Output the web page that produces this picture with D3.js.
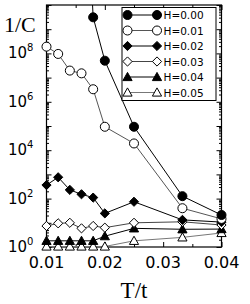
<!DOCTYPE html>
<html>
<head>
<meta charset="utf-8">
<script src="https://cdn.jsdelivr.net/npm/d3@7"></script>
<style>
  body { margin: 0; background: #fff; }
  svg { display: block; }
</style>
</head>
<body>
<svg id="canvas"></svg>
<script>
let svg = d3.select("#canvas");

svg.attr('width', 250)
    .attr('height', 304);

// T/t values
let temps = [0.010, 0.012, 0.014, 0.016, 0.018, 0.020, 0.025, 0.0333, 0.040];

// 1/C for each field, null = not plotted
let h000 = [null, null, null, 1e19, 3.1e9, 5.0e7, 9.3e4, 126, 21];
let h001 = [1.9e8, 9.5e7, 1.95e7, 1.5e7, 3.3e6, 9.3e4, 1.9e4, 40, 14.5];
let h002 = [363, 760, 229, 151, 110, 24.5, 74, 13.2, 10.7];
let h003 = [7.4, 9.5, 10, 5.9, 7.4, 6.3, 10, 11, 8.1];
let h004 = [1.8, 1.8, 1.8, 1.8, 1.8, 2.8, 5.9, 5.4, 5.5];
let h005 = [1.05, 1.05, 1.05, 1.05, 1.05, 1.05, 1.8, 2.5, 3.8];

let labels = ['H=0.00', 'H=0.01', 'H=0.02', 'H=0.03', 'H=0.04', 'H=0.05'];
let series = [h000, h001, h002, h003, h004, h005];
let symbols = ['circle', 'circle', 'diamond', 'diamond', 'triangle', 'triangle'];
let filled = [true, false, true, false, true, false];
let lineColors = ['#000', '#555', '#000', '#444', '#000', '#777'];

let xTicks = [0.01, 0.02, 0.03, 0.04];
let yLabelExp = [0, 2, 4, 6, 8];

let pLeft = 46.5, pRight = 221.5, pTop = 5, pBottom = 247;

let x = d3.scaleLinear().domain([0.01, 0.04]).range([pLeft, pRight]);
let y = d3.scaleLog().domain([1, 1e10]).range([pBottom, pTop]);

svg.append('clipPath').attr('id', 'clip')
  .append('rect')
  .attr('x', pLeft).attr('y', pTop)
  .attr('width', pRight - pLeft).attr('height', pBottom - pTop);

// ticks (inward, all four sides)
let majorY = d3.range(0, 11).map(k => Math.pow(10, k));
let minorY = y.ticks(100).filter(v => majorY.indexOf(v) < 0);
let minorX = [0.015, 0.025, 0.035];

function yAxis(axisFn, pos, vals, size) {
  svg.append('g')
    .attr('transform', `translate(${pos},0)`)
    .call(axisFn(y).tickValues(vals).tickSize(size).tickFormat(''))
    .call(g => g.select('.domain').remove())
    .call(g => g.selectAll('line').attr('stroke', '#000').attr('stroke-width', 1));
}
yAxis(d3.axisLeft, pLeft, majorY, -5);
yAxis(d3.axisLeft, pLeft, minorY, -2.5);
yAxis(d3.axisRight, pRight, majorY, -5);
yAxis(d3.axisRight, pRight, minorY, -2.5);

function xAxis(axisFn, pos, vals, size) {
  svg.append('g')
    .attr('transform', `translate(0,${pos})`)
    .call(axisFn(x).tickValues(vals).tickSize(size).tickFormat(''))
    .call(g => g.select('.domain').remove())
    .call(g => g.selectAll('line').attr('stroke', '#000').attr('stroke-width', 1));
}
xAxis(d3.axisBottom, pBottom, xTicks, -5);
xAxis(d3.axisBottom, pBottom, minorX, -3);
xAxis(d3.axisTop, pTop, xTicks, -5);
xAxis(d3.axisTop, pTop, minorX, -3);

// frame
svg.append('rect')
  .attr('x', pLeft).attr('y', pTop)
  .attr('width', pRight - pLeft).attr('height', pBottom - pTop)
  .attr('fill', 'none').attr('stroke', '#000').attr('stroke-width', 1.2);

// tick labels
svg.selectAll('.xlab')
  .data(xTicks)
  .join('text')
  .attr('x', d => x(d))
  .attr('y', 268)
  .attr('text-anchor', 'middle')
  .attr('font-family', 'DejaVu Sans')
  .attr('font-size', 16)
  .text(d => d.toFixed(2));

let ylab = svg.selectAll('.ylab')
  .data(yLabelExp)
  .join('text')
  .attr('x', 8)
  .attr('y', d => y(Math.pow(10, d)) + 5)
  .attr('font-family', 'DejaVu Sans')
  .attr('font-size', 15);
ylab.append('tspan').text('10');
ylab.append('tspan').attr('dy', -7).attr('font-size', 10).text(d => d);

svg.append('text')
  .attr('x', 4).attr('y', 32)
  .attr('font-family', 'Liberation Serif')
  .attr('font-size', 22)
  .text('1/C');

svg.append('text')
  .attr('x', 134).attr('y', 298)
  .attr('text-anchor', 'middle')
  .attr('font-family', 'Liberation Serif')
  .attr('font-size', 23)
  .text('T/t');

// markers
function symbolPath(type) {
  if (type === 'circle') {
    return d3.symbol(d3.symbolCircle, 64)();
  } else if (type === 'diamond') {
    return 'M0,-4.6L4.6,0L0,4.6L-4.6,0Z';
  }
  return 'M0,-4.6L4.6,3.6L-4.6,3.6Z';
}

let line = d3.line()
  .defined(d => d.v != null)
  .x(d => x(d.t))
  .y(d => y(d.v));

let plot = svg.append('g');

// draw from H=0.05 up so the filled low-field marks end on top
for (let s = series.length - 1; s >= 0; s--) {
  let pts = temps.map((t, i) => ({ t: t, v: series[s][i] }));
  plot.append('path')
    .datum(pts)
    .attr('clip-path', 'url(#clip)')
    .attr('fill', 'none')
    .attr('stroke', lineColors[s])
    .attr('stroke-width', 1)
    .attr('d', line);

  plot.selectAll('.m' + s)
    .data(pts.filter(d => d.v != null && d.v <= 1e10))
    .join('path')
    .attr('transform', d => `translate(${x(d.t)},${y(d.v)})`)
    .attr('d', symbolPath(symbols[s]))
    .attr('fill', filled[s] ? '#000' : '#fff')
    .attr('stroke', '#000')
    .attr('stroke-width', 1);
}

// legend
let lx = 122, ly = 7.5, lw = 94, lh = 93;
svg.append('rect')
  .attr('x', lx).attr('y', ly)
  .attr('width', lw).attr('height', lh)
  .attr('fill', '#fff').attr('stroke', '#000').attr('stroke-width', 1);

let leg = svg.selectAll('.leg')
  .data(labels)
  .join('g')
  .attr('transform', (d, i) => `translate(0,${15 + i * 15.5})`);

leg.append('line')
  .attr('x1', 127.5).attr('x2', 157)
  .attr('stroke', (d, i) => lineColors[i])
  .attr('stroke-width', 1);

[127.5, 157].forEach(mx => {
  leg.append('path')
    .attr('transform', `translate(${mx},0)`)
    .attr('d', (d, i) => symbolPath(symbols[i]))
    .attr('fill', (d, i) => filled[i] ? '#000' : '#fff')
    .attr('stroke', '#000')
    .attr('stroke-width', 1);
});

leg.append('text')
  .attr('x', 163.5)
  .attr('y', 4)
  .attr('font-family', 'DejaVu Sans')
  .attr('font-size', 10.5)
  .text(d => d);
</script>
</body>
</html>
